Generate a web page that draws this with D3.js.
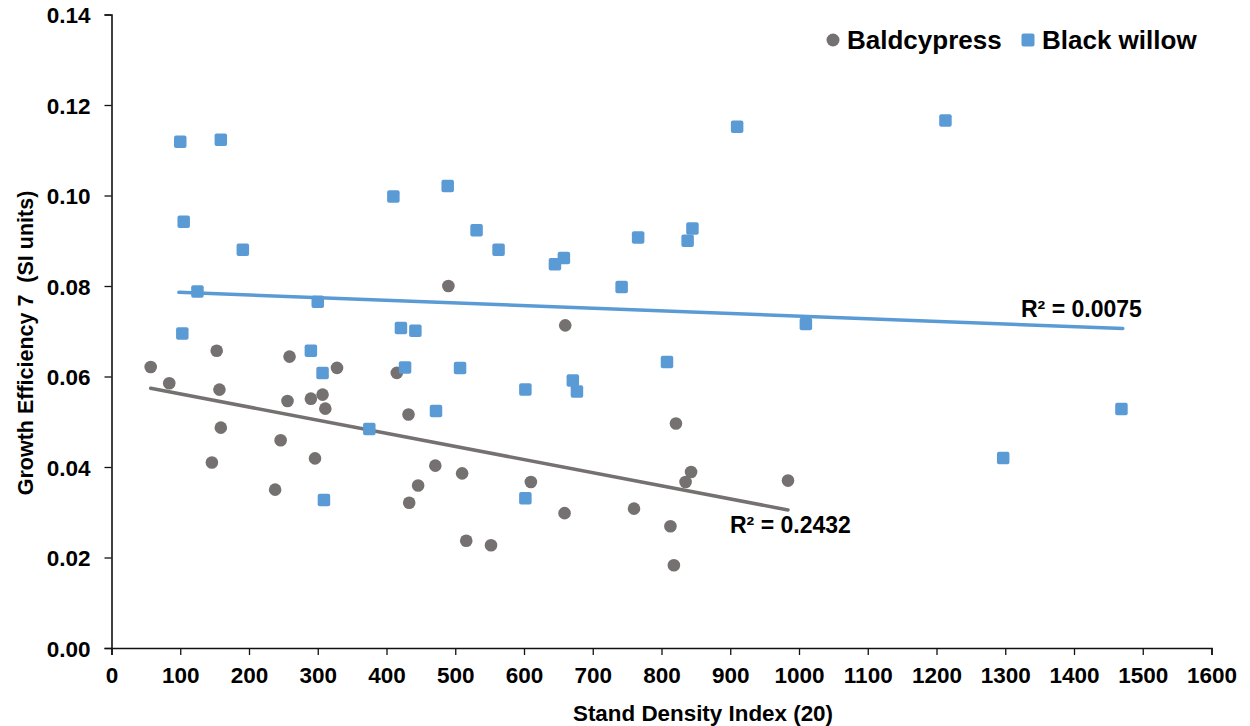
<!DOCTYPE html>
<html>
<head>
<meta charset="utf-8">
<script src="https://cdn.jsdelivr.net/npm/d3@7"></script>
<style>
  html, body { margin: 0; padding: 0; background: #fff; }
  svg { display: block; font-family: "Liberation Sans", Arial, sans-serif; }
  text { font-weight: bold; fill: #000; }
</style>
</head>
<body>
<svg id="chart" width="1250" height="726"></svg>
<script>
// ---- data ----
const bcX = [57, 84, 153, 157, 159, 146, 259, 256, 246, 238, 296, 290, 307, 311, 328, 415, 432, 471, 446, 433, 510, 516, 552, 490, 660, 610, 659, 760, 813, 818, 821, 843, 835, 984];
const bcY = [0.0621, 0.0585, 0.0657, 0.0571, 0.0487, 0.0410, 0.0644, 0.0546, 0.0459, 0.0350, 0.0419, 0.0551, 0.0560, 0.0529, 0.0619, 0.0608, 0.0516, 0.0403, 0.0359, 0.0321, 0.0386, 0.0237, 0.0227, 0.0800, 0.0713, 0.0367, 0.0298, 0.0308, 0.0269, 0.0183, 0.0496, 0.0389, 0.0367, 0.0370];
const bwX = [100, 159, 105, 191, 125, 300, 103, 410, 489, 531, 563, 421, 442, 290, 307, 427, 507, 375, 472, 309, 766, 845, 838, 658, 645, 742, 1010, 602, 808, 671, 677, 602, 1213, 910, 1469, 1297];
const bwY = [0.1119, 0.1123, 0.0942, 0.0880, 0.0788, 0.0765, 0.0695, 0.0998, 0.1021, 0.0923, 0.0880, 0.0707, 0.0701, 0.0657, 0.0608, 0.0620, 0.0619, 0.0484, 0.0524, 0.0327, 0.0907, 0.0927, 0.0900, 0.0862, 0.0848, 0.0798, 0.0716, 0.0571, 0.0632, 0.0591, 0.0567, 0.0331, 0.1166, 0.1152, 0.0528, 0.0420];
const bcTrendX = [57, 984];
const bcTrendY = [0.0574, 0.0305];
const bwTrendX = [98, 1471];
const bwTrendY = [0.0786, 0.0706];
const xTicks = [0,100,200,300,400,500,600,700,800,900,1000,1100,1200,1300,1400,1500,1600];
const yTicks = [0, 0.02, 0.04, 0.06, 0.08, 0.10, 0.12, 0.14];
const seriesNames = ["Baldcypress", "Black willow"];
const r2Labels = ["R\u00b2 = 0.2432", "R\u00b2 = 0.0075"];
const xTitle = "Stand Density Index (20)";
const yTitle = "Growth Efficiency 7  (SI units)";

const grey = "#767171", blue = "#5B9BD5";

const svg = d3.select("#chart");
const x = d3.scaleLinear().domain([0, 1600]).range([111.5, 1211.5]);
const y = d3.scaleLinear().domain([0, 0.14]).range([648, 14.5]);

// axes
const gx = svg.append("g").attr("transform", `translate(0,${y(0)})`)
  .call(d3.axisBottom(x).tickValues(xTicks).tickFormat(d3.format("d")).tickSizeOuter(0).tickSize(7).tickPadding(10));
const gy = svg.append("g").attr("transform", `translate(${x(0)},0)`)
  .call(d3.axisLeft(y).tickValues(yTicks).tickFormat(d3.format(".2f")).tickSizeOuter(0).tickSize(7).tickPadding(14));
[gx, gy].forEach(g => {
  g.select(".domain").attr("stroke", "#111").attr("stroke-width", 1.6);
  g.selectAll(".tick line").attr("stroke", "#111").attr("stroke-width", 1.3);
  g.selectAll(".tick text").style("font-size", "22.5px").style("font-weight", "bold")
    .style("font-family", '"Liberation Sans", Arial, sans-serif').attr("fill", "#000");
});
gx.selectAll(".tick text").attr("dy", "0.78em");
gy.selectAll(".tick text").attr("dy", "0.36em");

// titles
svg.append("text").attr("x", 703).attr("y", 721).attr("text-anchor", "middle")
  .style("font-size", "22.4px").text(xTitle);
svg.append("text").attr("transform", `translate(33,${343}) rotate(-90)`).attr("text-anchor", "middle")
  .style("font-size", "21.5px").style("white-space", "pre").text(yTitle);

// trend lines
const line = d3.line().x(d => x(d[0])).y(d => y(d[1]));
svg.append("path").datum(d3.zip(bcTrendX, bcTrendY)).attr("d", line)
  .attr("fill", "none").attr("stroke", grey).attr("stroke-width", 3.5).attr("stroke-linecap", "round");
svg.append("path").datum(d3.zip(bwTrendX, bwTrendY)).attr("d", line)
  .attr("fill", "none").attr("stroke", blue).attr("stroke-width", 3.5).attr("stroke-linecap", "round");

// points
svg.append("g").selectAll("circle").data(d3.zip(bcX, bcY)).join("circle")
  .attr("cx", d => x(d[0])).attr("cy", d => y(d[1])).attr("r", 6.3).attr("fill", grey);
const s = 12.5;
svg.append("g").selectAll("rect").data(d3.zip(bwX, bwY)).join("rect")
  .attr("x", d => x(d[0]) - s/2).attr("y", d => y(d[1]) - s/2)
  .attr("width", s).attr("height", s).attr("rx", 2).attr("fill", blue);

// R² labels
svg.append("text").attr("x", 730).attr("y", 533).style("font-size", "23px").text(r2Labels[0]);
svg.append("text").attr("x", 1021).attr("y", 317).style("font-size", "23px").text(r2Labels[1]);

// legend
const lg = svg.append("g");
lg.append("circle").attr("cx", 833).attr("cy", 40).attr("r", 6.5).attr("fill", grey);
lg.append("text").attr("x", 847).attr("y", 49).style("font-size", "26px").text(seriesNames[0]);
lg.append("rect").attr("x", 1028 - 6.5).attr("y", 40 - 6.5).attr("width", 13).attr("height", 13).attr("rx", 2).attr("fill", blue);
lg.append("text").attr("x", 1042).attr("y", 49).style("font-size", "26px").text(seriesNames[1]);
</script>
</body>
</html>
